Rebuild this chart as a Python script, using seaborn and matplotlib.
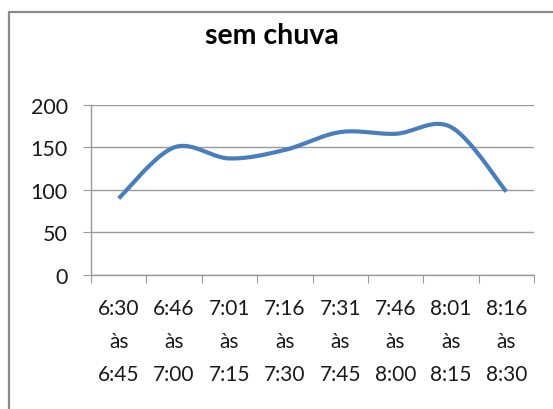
import numpy as np
import pandas as pd
import seaborn as sns
import matplotlib
matplotlib.use("Agg")
import matplotlib.pyplot as plt
from matplotlib.lines import Line2D

# Time windows (start / end) and the counts observed in each
inicio = ["6:30", "6:46", "7:01", "7:16", "7:31", "7:46", "8:01", "8:16"]
fim = ["6:45", "7:00", "7:15", "7:30", "7:45", "8:00", "8:15", "8:30"]
valores = [90, 150, 137, 147, 168, 166, 174, 98]
rotulos = [f"{a}\nàs\n{b}" for a, b in zip(inicio, fim)]
titulo = "sem chuva"
yticks = [0, 50, 100, 150, 200]


def suavizar(y, n=40):
    """Smoothed line through the points (Catmull-Rom style Bezier segments)."""
    x = np.arange(len(y), dtype=float)
    y = np.asarray(y, dtype=float)
    px = np.concatenate([[x[0]], x, [x[-1]]])
    py = np.concatenate([[y[0]], y, [y[-1]]])
    xs, ys = [], []
    t = np.linspace(0, 1, n)
    for i in range(len(y) - 1):
        p0 = np.array([px[i + 1], py[i + 1]])
        p3 = np.array([px[i + 2], py[i + 2]])
        c1 = p0 + (p3 - np.array([px[i], py[i]])) / 6
        c2 = p3 - (np.array([px[i + 3], py[i + 3]]) - p0) / 6
        b = ((1 - t) ** 3)[:, None] * p0 + (3 * (1 - t) ** 2 * t)[:, None] * c1 \
            + (3 * (1 - t) * t ** 2)[:, None] * c2 + (t ** 3)[:, None] * p3
        if i > 0:
            b = b[1:]
        xs.extend(b[:, 0])
        ys.extend(b[:, 1])
    return np.array(xs), np.array(ys)


sns.set_theme(style="white")
plt.rcParams["font.family"] = ["Lato", "DejaVu Sans"]

fig = plt.figure(figsize=(5.53, 4.10), dpi=100)
ax = fig.add_axes([91 / 553, 1 - 275.9 / 410, (534 - 91) / 553, (275.9 - 105.9) / 410])

xs, ys = suavizar(valores)
curva = pd.DataFrame({"x": xs, "y": ys})
sns.lineplot(data=curva, x="x", y="y", sort=False, estimator=None,
             color="#4A7EBB", linewidth=3.0, solid_capstyle="butt", ax=ax)

ax.set_xlim(-0.5, len(valores) - 0.5)
ax.set_ylim(0, 200)
ax.set_yticks(yticks)
ax.set_yticklabels([str(v) for v in yticks])
ax.set_xticks(range(len(valores)))
ax.set_xticklabels(rotulos, linespacing=1.82)
ax.set_xticks(np.arange(-0.5, len(valores)), minor=True)
ax.set_xlabel("")
ax.set_ylabel("")

grid_c = "#9a9a9a"
ax.yaxis.grid(True, color=grid_c, linewidth=1.0)
ax.xaxis.grid(False)
for s in ["top", "right"]:
    ax.spines[s].set_visible(False)
for s in ["left", "bottom"]:
    ax.spines[s].set_color(grid_c)
    ax.spines[s].set_linewidth(1.0)

ax.tick_params(axis="y", which="major", left=True, length=5.8, width=0.8,
               color=grid_c, pad=11, labelsize=15.5, labelcolor="#1a1a1a")
ax.tick_params(axis="x", which="major", bottom=True, length=0, pad=16.5,
               labelsize=15, labelcolor="#1a1a1a")
ax.tick_params(axis="x", which="minor", bottom=True, length=5.8, width=0.8,
               color=grid_c)

fig.text(271.7 / 553, 1 - 36.5 / 410, titulo, ha="center", va="center",
         fontsize=20.5, fontweight="bold", color="#000000")

# Outer chart frame (top and left edges)
frame_c = "#8a8a8a"
fig.add_artist(Line2D([8.8 / 553, 1.0], [1 - 13.4 / 410] * 2,
                      transform=fig.transFigure, color=frame_c, linewidth=1.6))
fig.add_artist(Line2D([8.8 / 553] * 2, [0.0, 1 - 13.4 / 410],
                      transform=fig.transFigure, color=frame_c, linewidth=1.6))

fig.savefig("out.png", dpi=100, facecolor="white")
